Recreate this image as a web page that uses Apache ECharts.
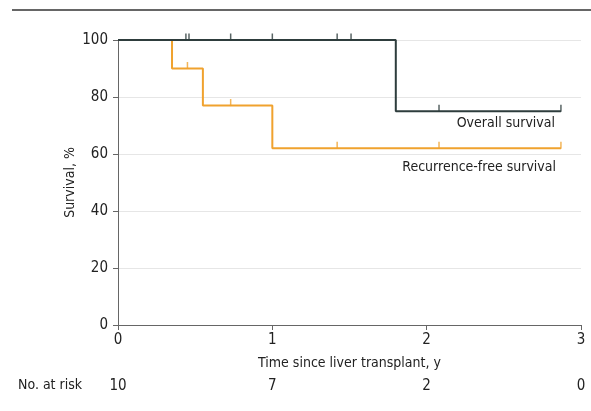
<!DOCTYPE html>
<html><head><meta charset="utf-8">
<script src="https://cdn.jsdelivr.net/npm/echarts@6/dist/echarts.min.js"></script>
<style>html,body{margin:0;padding:0;background:#fff}#c{width:591px;height:411px}</style>
</head><body><div id="c"></div>
<script>
const overallSteps = [[0,100],[1.8,75],[2.87,75]];
const overallCensor = [[0.44,100],[0.46,100],[0.73,100],[1.0,100],[1.42,100],[1.51,100],[2.08,75],[2.87,75]];
const rfsSteps = [[0,100],[0.35,90],[0.55,77],[1.0,62],[2.87,62]];
const rfsCensor = [[0.45,90],[0.73,77],[1.42,62],[2.08,62],[2.87,62]];
const xTicks = [0,1,2,3];
const yTicks = [0,20,40,60,80,100];
const atRisk = {0:'10',1:'7',2:'2',3:'0'};
const FONT = '"DejaVu Sans Condensed",sans-serif';
const TXT = '#222';
const chart = echarts.init(document.getElementById('c'));
chart.setOption({
  animation:false,
  grid:{left:118,right:10,top:40,bottom:86},
  xAxis:[{type:'value',min:0,max:3,interval:1,
    axisLine:{onZero:false,lineStyle:{color:'#666',width:1}},
    axisTick:{show:true,length:5,lineStyle:{color:'#666'}},
    splitLine:{show:false},
    axisLabel:{color:TXT,fontFamily:FONT,fontSize:15,margin:8},
    name:'Time since liver transplant, y',nameLocation:'middle',nameGap:31,
    nameTextStyle:{color:TXT,fontFamily:FONT,fontSize:14}},
   {type:'value',min:0,max:3,interval:1,position:'bottom',offset:46,
    axisLine:{show:false},axisTick:{show:false},splitLine:{show:false},
    axisLabel:{color:TXT,fontFamily:FONT,fontSize:15,formatter:v=>atRisk[v]}}],
  yAxis:{type:'value',min:0,max:100,interval:20,
    axisLine:{show:true,lineStyle:{color:'#666'}},
    axisTick:{show:true,length:5,lineStyle:{color:'#666'}},
    splitLine:{show:true,lineStyle:{color:'#e6e6e6',width:1}},
    axisLabel:{color:TXT,fontFamily:FONT,fontSize:15,margin:10},
    name:'Survival, %',nameLocation:'middle',nameGap:41,nameMoveOverlap:false,
    nameTextStyle:{color:TXT,fontFamily:FONT,fontSize:14}},
  series:[
    {type:'line',step:'end',data:rfsSteps,symbol:'none',lineStyle:{color:'#f0a22e',width:2},z:3},
    {type:'line',step:'end',data:overallSteps,symbol:'none',lineStyle:{color:'#2e3d3d',width:2},z:4},
    {type:'scatter',data:rfsCensor,symbol:'rect',symbolSize:[1.5,7],symbolOffset:[0,-3],itemStyle:{color:'#f0a22e'},z:3},
    {type:'scatter',data:overallCensor,symbol:'rect',symbolSize:[1.5,7],symbolOffset:[0,-3],itemStyle:{color:'#2e3d3d'},z:4}
  ],
  graphic:[
    {type:'line',shape:{x1:12,y1:10,x2:591,y2:10},style:{stroke:'#333',lineWidth:1.5}},
    {type:'text',right:36,top:116,style:{text:'Overall survival',fill:TXT,font:'14px '+FONT}},
    {type:'text',right:35,top:160,style:{text:'Recurrence-free survival',fill:TXT,font:'14px '+FONT}},
    {type:'text',left:18,top:378,style:{text:'No. at risk',fill:TXT,font:'14px '+FONT}}
  ]
});
</script></body></html>
